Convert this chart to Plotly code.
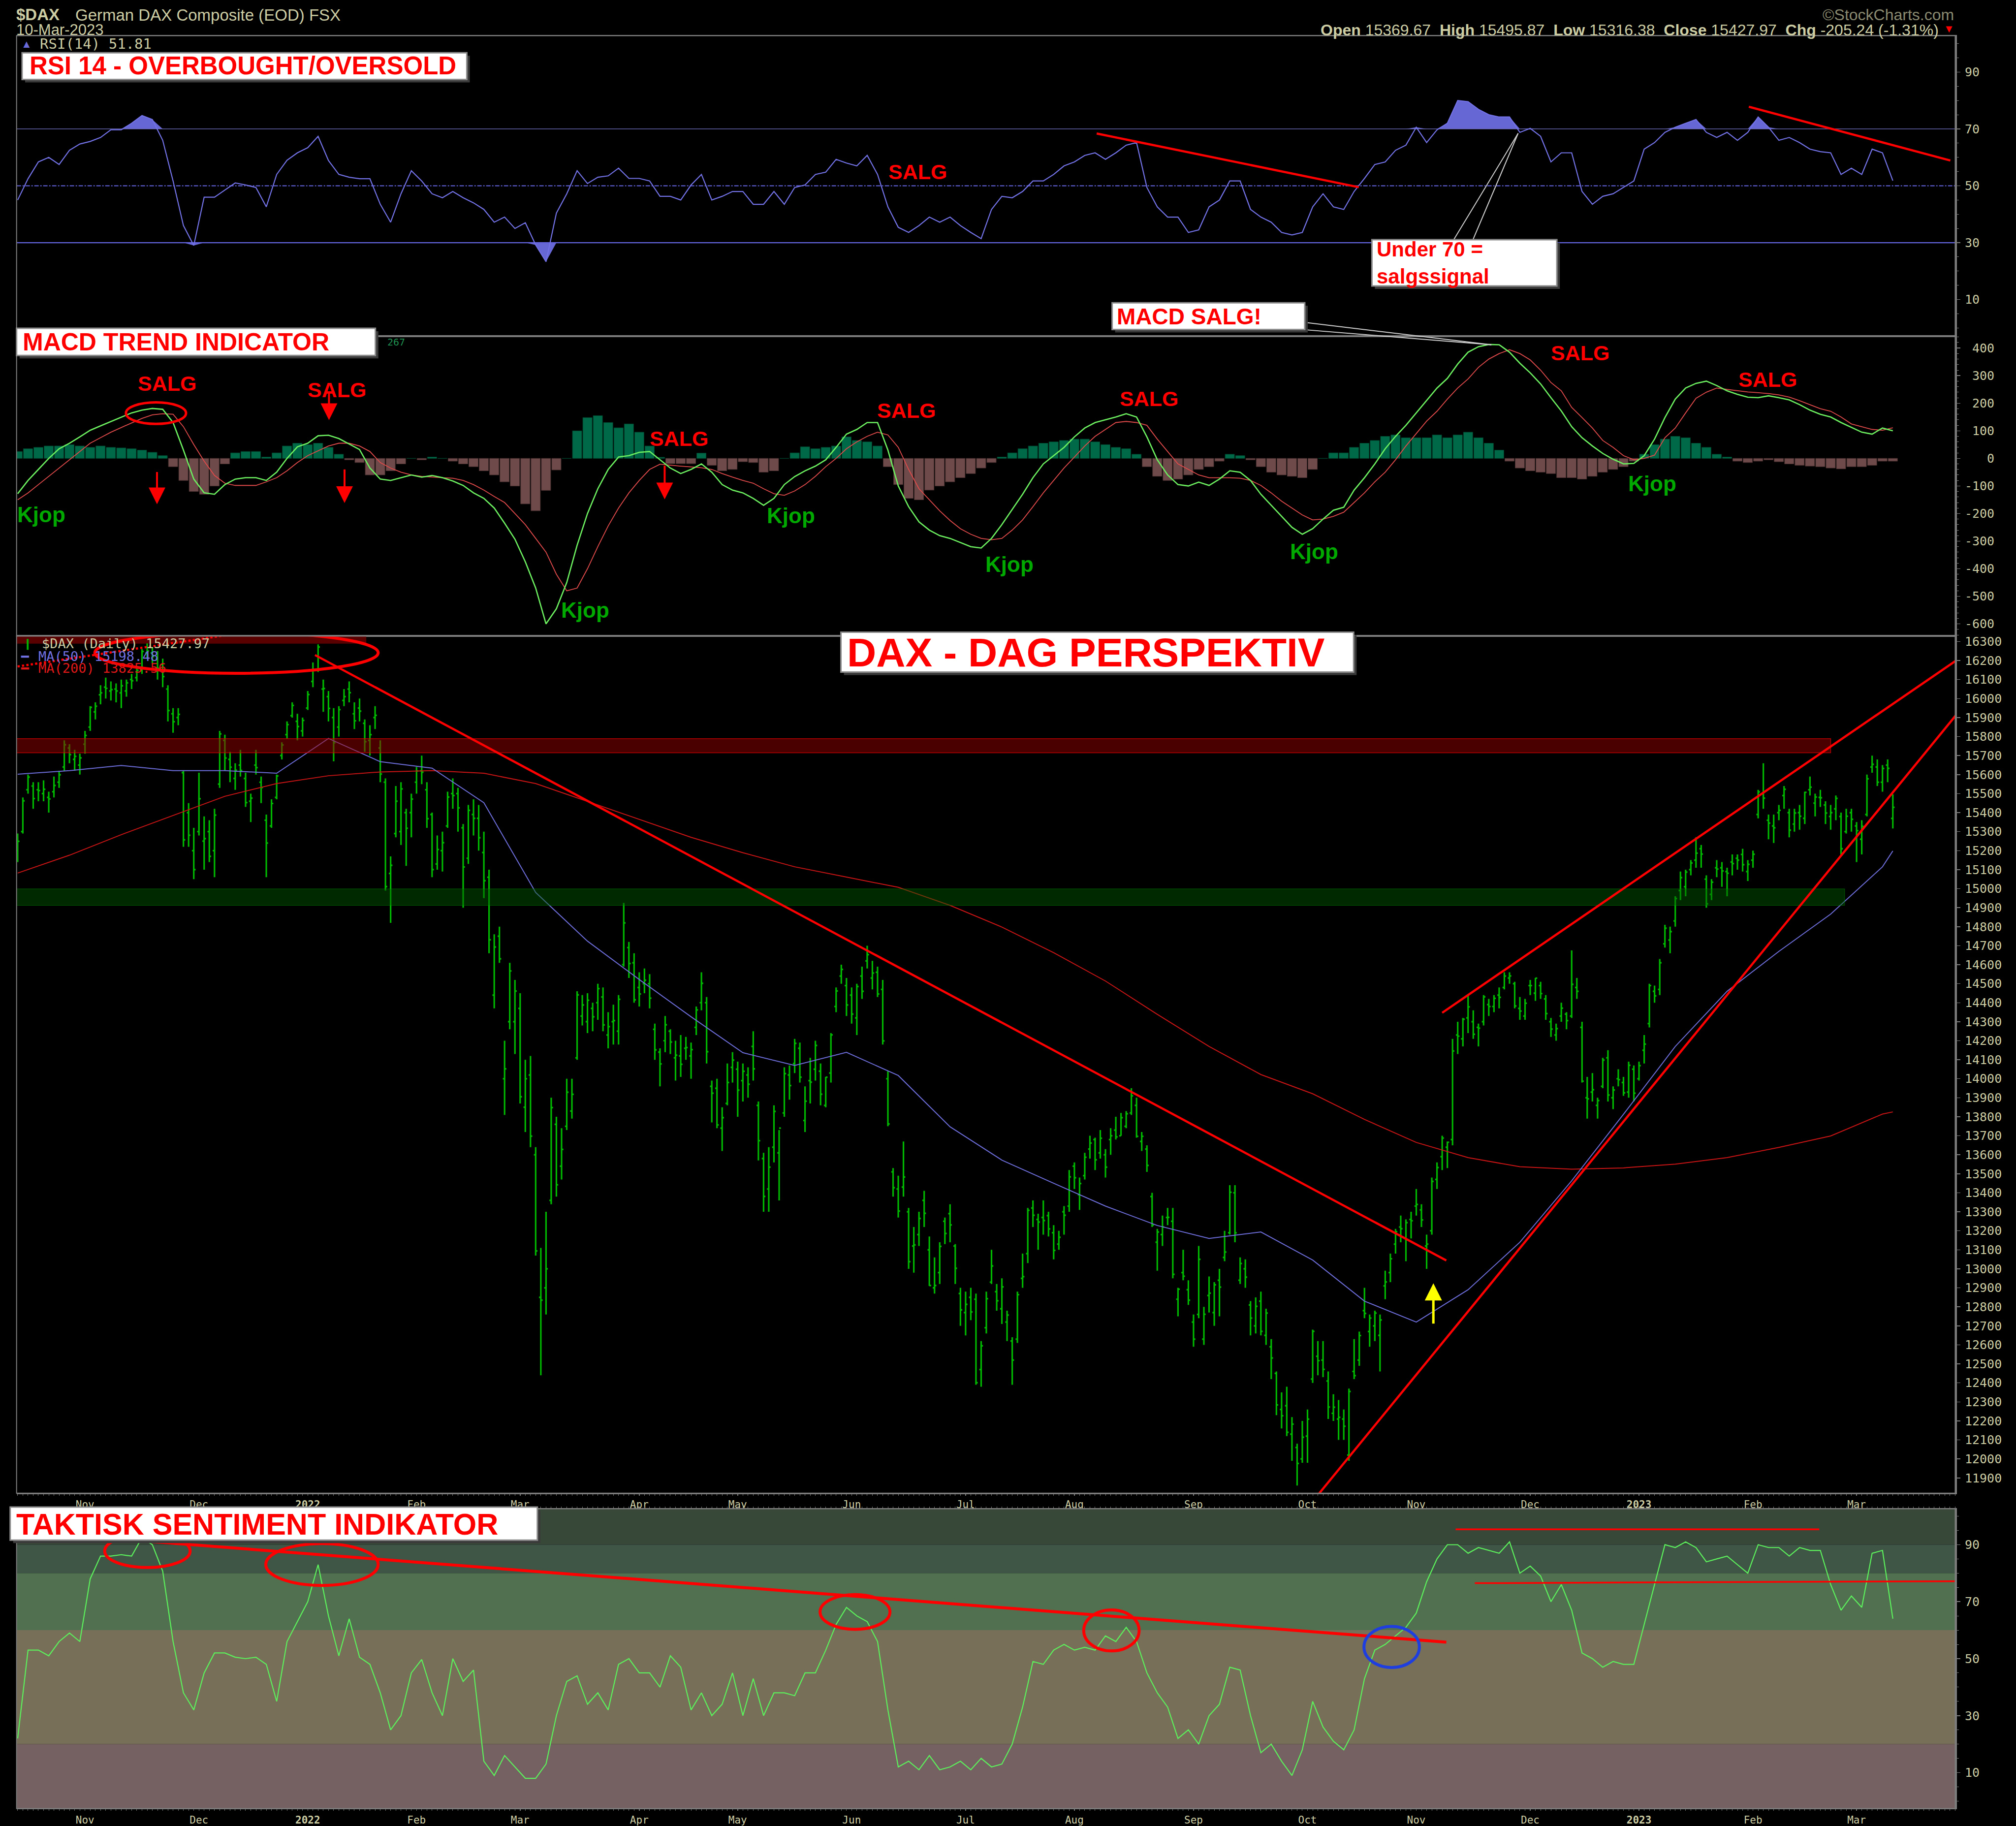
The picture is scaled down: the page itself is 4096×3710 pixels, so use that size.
import numpy as np
import pandas as pd
import plotly.graph_objects as go

# ------------------------------------------------------------------ calendar
START, END = "2021-10-13", "2023-03-10"
HOLIDAYS = ["2021-12-24", "2021-12-31", "2022-04-15", "2022-04-18", "2022-12-26"]

# ------------------------------------------------------------------ daily OHLC (open, high, low, close)
oct21 = [(15200,15290,15140,15249),(15300,15480,15290,15462),(15520,15600,15500,15587),(15540,15560,15420,15474),
         (15520,15560,15460,15516),(15500,15570,15460,15523),(15480,15510,15400,15472),(15510,15590,15480,15543),
         (15560,15620,15530,15599),(15640,15780,15620,15757),(15740,15760,15660,15705),(15680,15730,15620,15696),
         (15650,15710,15600,15688)]
nov21 = [(15760,15830,15710,15806),(15850,15960,15830,15954),(15930,15980,15890,15960),(16020,16070,15970,16030),
         (16060,16110,16000,16054),(16040,16090,15990,16047),(16050,16080,15980,16040),(16030,16100,15950,16067),
         (16040,16100,16010,16083),(16100,16130,16050,16094),(16110,16170,16090,16148),(16150,16260,16130,16248),
         (16240,16290,16210,16251),(16240,16270,16180,16221),(16210,16250,16100,16160),(16180,16210,16060,16116),
         (16050,16070,15880,15937),(15920,15950,15820,15878),(15900,15950,15860,15917),(15610,15620,15220,15257),
         (15400,15450,15220,15281),(15200,15320,15050,15100)]
dec21 = [(15300,15610,15280,15473),(15250,15380,15100,15263),(15300,15360,15140,15170),(15200,15420,15060,15387),
         (15550,15830,15530,15814),(15780,15810,15620,15687),(15680,15720,15560,15639),(15580,15660,15520,15623),
         (15650,15730,15590,15622),(15580,15610,15430,15453),(15460,15500,15350,15476),(15650,15730,15600,15637),
         (15560,15590,15450,15532),(15360,15390,15060,15240),(15330,15470,15320,15448),(15480,15600,15470,15593),
         (15700,15770,15680,15756),(15810,15880,15790,15863),(15910,15980,15900,15964),(15880,15920,15780,15853),
         (15830,15900,15800,15885)]
jan22 = [(15950,16040,15940,16021),(16090,16190,16060,16152),(16150,16285,16140,16271),(16050,16100,15930,16053),
         (16010,16040,15880,15948),(15900,15950,15670,15768),(15850,15960,15800,15942),(15990,16050,15960,16010),
         (16050,16090,15980,16031),(15920,15980,15840,15883),(15950,16000,15880,15934),(15870,15890,15720,15773),
         (15780,15860,15700,15810),(15900,15960,15840,15912),(15740,15780,15560,15603),(15560,15580,14990,15011),
         (15080,15170,14820,15123),(15290,15540,15270,15460),(15300,15560,15230,15525),(15400,15420,15120,15318),
         (15400,15500,15270,15471)]
feb22 = [(15560,15640,15500,15619),(15620,15700,15550,15613),(15520,15560,15320,15368),(15390,15400,15060,15100),
         (15130,15280,15100,15206),(15200,15300,15090,15242),(15330,15510,15320,15482),(15500,15580,15420,15490),
         (15500,15530,15300,15425),(15320,15340,14900,15114),(15160,15440,15130,15412),(15390,15470,15280,15370),
         (15370,15440,15200,15268),(15190,15300,14950,15042),(15060,15100,14660,14731),(14440,14760,14370,14693),
         (14750,14800,14610,14631),(14000,14200,13810,14052),(14300,14610,14260,14567),(14300,14520,14130,14461)]
mar22 = [(14370,14450,13870,13905),(13850,14100,13720,14000),(14020,14120,13640,13698),(13600,13640,13070,13094),
         (12850,13110,12440,12835),(12900,13300,12760,13000),(13360,13900,13340,13848),(13760,13800,13380,13442),
         (13540,13740,13470,13628),(13750,14000,13730,13929),(13830,14000,13790,13918),(14110,14460,14100,14441),
         (14330,14440,14280,14388),(14300,14450,14240,14413),(14370,14400,14250,14326),(14400,14500,14310,14474),
         (14430,14480,14250,14283),(14230,14350,14160,14274),(14300,14390,14180,14306),(14250,14440,14180,14418),
         (14600,14925,14590,14820),(14690,14720,14530,14606),(14610,14660,14400,14415)]
apr22 = [(14480,14560,14380,14446),(14500,14580,14450,14518),(14500,14550,14370,14424),(14260,14290,14100,14152),
         (14140,14160,13960,14078),(14200,14330,14140,14284),(14250,14260,14130,14193),(14110,14200,13990,14124),
         (14120,14230,14010,14076),(14160,14220,14100,14164),(14120,14190,14000,14153),(14270,14380,14230,14362),
         (14400,14560,14360,14502),(14400,14430,14080,14142),(13960,13990,13770,13924),(13950,14000,13740,13757),
         (13740,13850,13620,13795),(13870,14080,13860,13980),(14060,14140,13980,14098)]
may22 = [(14050,14090,13800,13940),(13990,14080,13880,14039),(14020,14060,13900,13971),(14170,14250,13990,14052),
         (13860,13880,13570,13674),(13580,13610,13300,13381),(13420,13640,13300,13535),(13640,13860,13560,13828),
         (13610,13730,13360,13740),(13820,14060,13800,14027),(14020,14070,13890,13964),(14080,14210,14030,14186),
         (14160,14190,13980,14008),(13780,13960,13720,13882),(13990,14110,13870,13982),(14050,14200,13990,14175),
         (14040,14080,13860,13919),(13860,14010,13850,14008),(14030,14240,13980,14231),(14380,14480,14350,14462),
         (14540,14600,14500,14575),(14490,14530,14330,14388)]
jun22 = [(14440,14480,14290,14340),(14320,14500,14230,14485),(14540,14590,14420,14460),(14620,14700,14580,14653),
         (14530,14620,14470,14556),(14560,14590,14430,14446),(14470,14520,14180,14199),(14000,14040,13750,13762),
         (13510,13530,13380,13427),(13420,13490,13270,13304),(13430,13670,13380,13483),(13300,13320,13000,13038),
         (13120,13220,12980,13126),(13180,13300,13120,13265),(13360,13410,13220,13292),(13100,13170,12910,12912),
         (12900,13060,12870,12912),(12980,13140,12920,13118),(13250,13270,13130,13186),(13290,13340,13140,13231),
         (13120,13130,12920,13003),(12870,12900,12700,12784)]
jul22 = [(12770,12880,12650,12813),(12850,12900,12730,12773),(12840,12870,12390,12401),(12470,12620,12380,12595),
         (12690,12880,12660,12843),(12930,13100,12920,13015),(12880,12920,12780,12832),(12790,12950,12710,12905),
         (12720,12780,12620,12757),(12620,12640,12390,12520),(12630,12880,12610,12864),(12950,13080,12900,12959),
         (13080,13320,13030,13308),(13320,13360,13220,13282),(13260,13290,13100,13246),(13270,13360,13180,13254),
         (13280,13300,13170,13210),(13190,13230,13050,13097),(13130,13200,13100,13166),(13300,13330,13180,13282),
         (13330,13520,13300,13484)]
aug22 = [(13540,13560,13420,13479),(13390,13480,13310,13449),(13490,13610,13470,13587),(13630,13700,13580,13662),
         (13680,13690,13520,13574),(13610,13730,13580,13687),(13600,13630,13480,13535),(13680,13740,13600,13700),
         (13730,13800,13680,13694),(13700,13820,13700,13795),(13750,13830,13740,13816),(13820,13950,13810,13910),
         (13860,13900,13690,13697),(13670,13720,13620,13697),(13630,13650,13510,13544),(13380,13400,13220,13230),
         (13140,13210,12990,13194),(13180,13280,13120,13220),(13270,13320,13230,13271),(13250,13320,12950,12971),
         (12840,12900,12750,12893),(12980,13100,12940,12961),(12890,12940,12810,12835)]
sep22 = [(12720,12760,12590,12630),(12760,13120,12740,13050),(12630,12800,12600,12761),(12860,12960,12770,12872),
         (12770,12930,12700,12916),(12940,13000,12750,12904),(13060,13200,13040,13088),(13190,13440,13180,13403),
         (13400,13440,13140,13189),(12940,13060,12920,13028),(13000,13050,12900,12956),(12810,12830,12650,12741),
         (12700,12850,12660,12803),(12830,12880,12650,12671),(12650,12790,12600,12767),(12590,12630,12420,12531),
         (12450,12460,12230,12284),(12260,12350,12160,12227),(12280,12380,12120,12140),(12130,12220,11990,12183),
         (12060,12080,11860,11976),(12000,12200,11980,12114)]
oct22 = [(12120,12260,11980,12209),(12420,12680,12400,12671),(12540,12620,12440,12517),(12520,12620,12430,12471),
         (12410,12460,12210,12273),(12240,12340,12200,12272),(12210,12310,12100,12219),(12210,12260,12100,12172),
         (12020,12370,11990,12355),(12460,12630,12420,12438),(12520,12670,12490,12649),(12780,12900,12740,12765),
         (12670,12760,12590,12741),(12700,12780,12620,12767),(12650,12760,12460,12731),(12910,12990,12840,12931),
         (12980,13080,12930,13053),(13130,13210,13080,13195),(13220,13280,13140,13211),(13160,13260,13040,13243),
         (13260,13300,13160,13253)]
nov22 = [(13330,13420,13280,13339),(13310,13340,13220,13257),(13120,13180,13000,13130),(13200,13480,13180,13460),
         (13470,13560,13420,13533),(13590,13700,13520,13688),(13640,13670,13530,13666),(13680,14210,13650,14146),
         (14230,14300,14130,14224),(14210,14320,14170,14313),(14320,14440,14240,14378),(14300,14360,14210,14234),
         (14270,14290,14170,14266),(14300,14440,14280,14431),(14390,14420,14330,14380),(14380,14440,14350,14423),
         (14440,14480,14370,14428),(14480,14560,14470,14540),(14530,14560,14500,14541),(14500,14510,14370,14383),
         (14370,14430,14310,14356),(14330,14420,14310,14397)]
dec22 = [(14490,14520,14440,14490),(14450,14530,14410,14529),(14490,14510,14420,14448),(14420,14440,14310,14343),
         (14300,14320,14220,14261),(14230,14290,14200,14264),(14330,14400,14300,14371),(14340,14350,14260,14306),
         (14330,14675,14320,14497),(14480,14530,14420,14460),(14270,14300,13980,13987),(13900,14010,13790,13894),
         (13930,14030,13880,13942),(13860,13900,13790,13885),(13960,14110,13950,14098),(14110,14150,13880,13914),
         (13900,13960,13840,13941),(14000,14050,13960,13995),(13980,14010,13910,13926),(13930,14090,13900,14071),
         (14050,14070,13880,13924)]
jan23 = [(14000,14090,13990,14069),(14150,14230,14080,14182),(14290,14500,14270,14490),(14460,14490,14400,14436),
         (14470,14630,14440,14610),(14710,14810,14690,14792),(14730,14800,14660,14774),(14830,14960,14800,14948),
         (14990,15090,14940,15058),(15010,15100,14960,15087),(15100,15150,15070,15135),(15150,15270,15110,15187),
         (15210,15230,15110,15182),(15050,15070,14900,14920),(14970,15050,14940,15034),(15110,15150,15060,15103),
         (15110,15140,15010,15093),(15090,15110,14960,15081),(15140,15180,15070,15132),(15160,15180,15100,15150),
         (15180,15210,15090,15126),(15090,15150,15040,15128)]
feb23 = [(15150,15200,15110,15181),(15390,15520,15370,15509),(15500,15660,15420,15476),(15360,15390,15260,15345),
         (15330,15390,15240,15320),(15400,15440,15360,15412),(15490,15540,15420,15523),(15400,15420,15270,15308),
         (15340,15420,15300,15398),(15400,15440,15310,15381),(15370,15510,15340,15507),(15520,15590,15490,15534),
         (15450,15500,15380,15482),(15480,15520,15430,15478),(15440,15460,15340,15398),(15380,15440,15310,15400),
         (15420,15490,15360,15475),(15380,15400,15180,15210),(15300,15420,15290,15381),(15400,15420,15300,15365)]
mar23 = [(15330,15350,15140,15305),(15260,15360,15180,15328),(15390,15600,15380,15578),(15640,15700,15610,15654),
         (15640,15680,15540,15560),(15560,15650,15510,15632),(15650,15680,15560,15633),(15369.67,15495.87,15316.38,15427.97)]

# ------------------------------------------------------------------ indicators, every 2nd trading day
rsi_vals = [45,52.5,58.4,60,57.5,62.5,64.7,65.6,67,69.7,
            69.7,72,74.7,73.3,66,51.7,36,29,46,46,
            48.5,51,50.3,49.4,42.6,54,59,61.6,63.4,67.4,
            58.9,54,53,52.5,52.5,43.5,37.2,47.2,55.3,51.7,
            47.2,45.8,48,45.8,44,41.7,37.2,39,35,37,
            29.2,23.3,40.4,47.2,55.3,50.8,53,53.5,56.2,52.6,
            52.6,51.7,46.3,46.3,45,50.3,54,45,46.3,48,
            48,43.5,43.5,48,43.5,49.4,50.3,54,54.8,59.3,
            58,57,60.7,54,42.6,35.4,33.6,36,39,37.2,
            39,36,33.6,31.4,41.7,46.3,45.8,48,51.7,51.7,
            54,57,58.4,60.7,61.6,59.3,61.6,64.3,65.2,49.4,
            42.6,39,39,33.6,34.5,42.6,45,51.7,51.7,41.7,
            39,37.2,33.6,32.7,33.6,42.6,47.2,42.6,41.7,48,
            52.6,57.5,58.4,62.5,64.3,70.6,65.2,69.7,72,80,
            79.6,76.9,75,74.2,74.2,68.8,70.2,67.4,58.4,61.6,
            61.6,48,43.5,46.3,47.2,49.4,51.7,62.9,65.2,68.8,
            70.6,72,73.3,68.8,67,68.8,66,68.8,74.2,70.6,
            66,67,65.2,62.9,62,61.6,54,56.2,54,62.9,
            61.6,51.81]
macd_vals = [-128,-80,-40,0,35,55,78,102,118,134,
             150,165,175,181,178,130,30,-75,-125,-130,
             -95,-75,-70,-70,-80,-50,0,42,55,82,
             84,72,52,32,-35,-75,-80,-70,-60,-68,
             -62,-70,-82,-98,-125,-145,-180,-235,-293,-375,
             -470,-600,-545,-450,-315,-200,-110,-40,5,10,
             22,25,-5,-35,-55,-40,-20,-50,-95,-115,
             -125,-145,-170,-145,-95,-66,-45,-28,-5,40,
             88,105,130,130,30,-100,-175,-230,-260,-280,
             -290,-305,-320,-325,-290,-240,-185,-130,-70,-20,
             10,40,78,110,130,140,150,162,150,78,
             -5,-60,-95,-100,-86,-98,-75,-45,-50,-80,
             -130,-170,-210,-250,-275,-255,-220,-188,-177,-115,
             -70,-20,35,80,120,165,210,255,290,342,
             385,405,413,412,385,345,310,270,220,172,
             115,75,45,18,-3,-20,-18,10,70,148,
             215,255,272,280,264,245,232,222,220,227,
             220,212,195,175,160,150,130,112,95,88,
             110,100]
signal_vals = [-150,-125,-95,-65,-35,-5,25,55,75,95,
               112,128,145,158,162,160,115,50,-10,-62,
               -90,-98,-98,-98,-85,-70,-45,-15,10,28,
               45,55,55,45,25,-15,-35,-50,-60,-65,
               -68,-70,-72,-80,-95,-115,-138,-160,-200,-240,
               -290,-340,-420,-480,-470,-400,-320,-245,-180,-125,
               -80,-40,-21,-25,-28,-31,-34,-40,-55,-68,
               -80,-90,-110,-128,-134,-118,-95,-65,-30,0,
               35,60,80,95,85,40,-40,-110,-150,-190,
               -225,-255,-275,-290,-295,-290,-260,-223,-175,-125,
               -80,-35,5,45,80,105,130,134,130,120,
               70,25,-20,-40,-60,-70,-70,-70,-72,-80,
               -98,-125,-155,-180,-205,-223,-220,-210,-195,-160,
               -125,-85,-50,-5,45,90,135,171,215,255,
               288,330,360,380,394,380,357,320,275,245,
               185,148,110,65,40,10,-5,0,12,75,
               110,165,218,240,255,250,245,241,238,235,
               230,222,209,195,180,171,150,125,115,105,
               102,111]
hist_vals = [25,35,40,45,45,50,45,40,45,40,
             38,35,30,22,10,-30,-80,-120,-130,-100,
             -20,20,25,25,5,20,45,55,50,55,
             40,15,-5,-15,-60,-60,-45,-20,0,-5,
             5,0,-10,-20,-30,-45,-60,-85,-100,-165,
             -190,-116,-42,0,100,148,155,130,111,125,
             95,45,4,-19,-19,-19,19,-25,-45,-40,
             -12,-15,-50,-45,0,20,42,35,40,45,
             78,65,60,45,-30,-95,-145,-150,-115,-100,
             -85,-70,-55,-35,-15,5,20,35,45,55,
             60,65,70,70,60,50,40,35,15,-30,
             -65,-80,-75,-60,-40,-30,-10,15,10,-5,
             -30,-50,-60,-65,-70,-40,0,20,20,40,
             55,65,80,85,75,75,75,85,75,85,
             95,75,55,30,-10,-35,-45,-50,-55,-70,
             -70,-75,-65,-50,-40,-30,-10,15,50,70,
             80,75,55,40,15,5,-10,-15,-10,-5,
             -12,-20,-25,-28,-30,-35,-38,-30,-30,-25,
             -10,-10]
sent_vals = [22,53,53,51,56,59,56,78,86,86,
             86.5,86,92.5,90,80.7,56,38,32,45,52,
             52,50.5,50,50.5,48,35,56,63,70,83,
             65,51,64,50.5,48,38,25,30,45,49.7,
             38,30,50,42,46,14,9,16,12,8,
             8,13,30,42,44,34,38,32,48,50,
             45,45,40,51,47,32,38,30,34,45,
             30,43,30,38,38,37,45,45,53,62,
             68,65,63,56,32,12,14,11,16,11,
             12,14,11,15,12,13,20,33,49,48,
             53,55,53,54,53,58,56,61,56,45,
             38,33,22,25,20,30,34,47,46,30,
             17,20,14,9,18,35,26,21,18,25,
             43,53,55,58,61,66,77,85,90,90,
             87,89,88,87,91,80,82.5,79,70,76,
             67,52,50,47,49,48,48,62,76,90,
             89,91,89,84,85,86,83,80,90,89,
             89,86,89,88,88,76,67,72,68,87,
             88,64]

# moving averages, every 10th trading day (+ last bar)
ma_days = list(range(0, 361, 10)) + [362]
ma50_vals = [15602,15621,15648,15621,15621,15607,15790,15668,15634,15452,14980,14724,14522,14326,
             14137,14070,14139,14017,13747,13572,13450,13330,13228,13160,13194,13046,12830,12720,
             12890,13140,13463,13813,14170,14460,14670,14866,15115,15198.48]
ma200_vals = [15082,15176,15284,15385,15486,15553,15594,15614,15621,15607,15553,15459,15364,15270,
              15189,15115,15061,15007,14912,14798,14663,14514,14339,14170,14022,13921,13786,13665,
              13585,13537,13524,13531,13551,13585,13639,13699,13814,13825.56]

# ------------------------------------------------------------------ build series
dates = pd.bdate_range(START, END)
dates = dates[~dates.isin(pd.to_datetime(HOLIDAYS))]
bars = oct21 + nov21 + dec21 + jan22 + feb22 + mar22 + apr22 + may22 + jun22 + jul22 + aug22 + sep22 + \
       oct22 + nov22 + dec22 + jan23 + feb23 + mar23
n = min(len(bars), len(dates))
bars = bars[:n]
dates = dates[:n]
day = np.arange(n)
opens = [b[0] for b in bars]
highs = [b[1] for b in bars]
lows = [b[2] for b in bars]
closes = [b[3] for b in bars]

grid = np.arange(0, n, 2)[:len(rsi_vals)]
rsi = np.array(rsi_vals[:len(grid)], float)
macd = np.array(macd_vals[:len(grid)], float)
sig = np.array(signal_vals[:len(grid)], float)
hist = np.array(hist_vals[:len(grid)], float)
sent = np.array(sent_vals[:len(grid)], float)

# month ticks
tick_pos, tick_txt = [], []
for i in range(1, n):
    if dates[i].month != dates[i - 1].month:
        tick_pos.append(i)
        tick_txt.append("<b>%d</b>" % dates[i].year if dates[i].month == 1 else dates[i].strftime("%b"))

# ------------------------------------------------------------------ geometry helpers (reference pixels -> paper)
FX, FY = 4742.0, 4295.0
def px(x): return x / FX
def py(y): return 1.0 - y / FY

KH = "#cdcda4"
GREY = "#7c7c7c"
MONO = "DejaVu Sans Mono"
SANS = "Liberation Sans"
XR = [-0.21, 374.04]
XD = [px(39), px(4599)]

fig = go.Figure()

# ---------------- RSI panel
fig.add_trace(go.Scatter(x=grid, y=np.full(len(grid), 70.0), mode="lines", line=dict(width=0),
                         xaxis="x", yaxis="y", hoverinfo="skip"))
fig.add_trace(go.Scatter(x=grid, y=np.maximum(rsi, 70), mode="lines", line=dict(width=0), fill="tonexty",
                         fillcolor="#6666d4", xaxis="x", yaxis="y", hoverinfo="skip"))
fig.add_trace(go.Scatter(x=grid, y=np.full(len(grid), 30.0), mode="lines", line=dict(width=0),
                         xaxis="x", yaxis="y", hoverinfo="skip"))
fig.add_trace(go.Scatter(x=grid, y=np.minimum(rsi, 30), mode="lines", line=dict(width=0), fill="tonexty",
                         fillcolor="#6666d4", xaxis="x", yaxis="y", hoverinfo="skip"))
for lvl, w, dsh, col in [(70, 1.2, "solid", "#7474c8"), (50, 2, "dashdot", "#6464e0"), (30, 2.2, "solid", "#6464e0")]:
    fig.add_trace(go.Scatter(x=XR, y=[lvl, lvl], mode="lines", line=dict(color=col, width=w, dash=dsh),
                             xaxis="x", yaxis="y", hoverinfo="skip"))
fig.add_trace(go.Scatter(x=grid, y=rsi, mode="lines", line=dict(color="#7272e6", width=2.2),
                         xaxis="x", yaxis="y", hoverinfo="skip"))

# ---------------- MACD panel
fig.add_trace(go.Bar(x=grid, y=hist, width=1.8,
                     marker=dict(color=np.where(hist >= 0, "#006a48", "#6e4a4a"),
                                 line=dict(color=np.where(hist >= 0, "#00442e", "#4a3030"), width=1)),
                     xaxis="x2", yaxis="y2", hoverinfo="skip"))
fig.add_trace(go.Scatter(x=grid, y=sig, mode="lines", line=dict(color="#e04a4a", width=1.8),
                         xaxis="x2", yaxis="y2", hoverinfo="skip"))
fig.add_trace(go.Scatter(x=grid, y=macd, mode="lines", line=dict(color="#6cf060", width=2.6),
                         xaxis="x2", yaxis="y2", hoverinfo="skip"))

# ---------------- price panel
fig.add_trace(go.Ohlc(x=day, open=opens, high=highs, low=lows, close=closes, tickwidth=0.35,
                      increasing=dict(line=dict(color="#00b800", width=3.2)),
                      decreasing=dict(line=dict(color="#00b800", width=3.2)),
                      xaxis="x3", yaxis="y3", hoverinfo="skip"))
fig.add_trace(go.Scatter(x=ma_days, y=ma200_vals, mode="lines", line=dict(color="#c81414", width=2),
                         xaxis="x3", yaxis="y3", hoverinfo="skip"))
fig.add_trace(go.Scatter(x=ma_days, y=ma50_vals, mode="lines", line=dict(color="#6c6cd8", width=2),
                         xaxis="x3", yaxis="y3", hoverinfo="skip"))

# ---------------- sentiment panel
fig.add_trace(go.Scatter(x=grid, y=sent, mode="lines", line=dict(color="#5cf05c", width=2.2),
                         xaxis="x4", yaxis="y4", hoverinfo="skip"))

# ------------------------------------------------------------------ axes
def xax(dom_anchor, labels):
    d = dict(domain=XD, range=XR, anchor=dom_anchor, showgrid=False, zeroline=False,
             showline=True, linecolor=GREY, linewidth=2, mirror=True, fixedrange=True)
    if labels:
        d.update(tickmode="array", tickvals=tick_pos, ticktext=tick_txt, ticks="outside", ticklen=3,
                 tickcolor=GREY, tickwidth=1.5, tickfont=dict(family=MONO, size=21, color=KH),
                 ticklabelstandoff=0,
                 minor=dict(tickmode="linear", tick0=0, dtick=1, ticks="outside", ticklen=3,
                            tickcolor=GREY, tickwidth=1))
    else:
        d.update(showticklabels=False, ticks="")
    return d

def yax(dom, rng, anchor, vals, txt, minor_dt):
    d = dict(domain=dom, range=rng, anchor=anchor, side="right", showgrid=False, zeroline=False,
             showline=True, linecolor=GREY, linewidth=3.5, fixedrange=True,
             tickmode="array", tickvals=vals, ticktext=txt, ticks="outside", ticklen=7, tickcolor=GREY,
             tickwidth=1.5, tickfont=dict(family=MONO, size=25, color=KH), ticklabelstandoff=4)
    if minor_dt:
        d["minor"] = dict(tickmode="linear", tick0=0, dtick=minor_dt, ticks="outside", ticklen=4,
                          tickcolor=GREY, tickwidth=1)
    return d

rsi_ticks = [10, 30, 50, 70, 90]
macd_ticks = list(range(-600, 401, 100))
price_ticks = list(range(11900, 16301, 100))
NB = "\u00a0"

x1 = xax("y", False)
x2 = xax("y2", False)
x3 = xax("y3", True)
x4 = xax("y4", True)
x4["mirror"] = "allticks"
x3["rangeslider"] = dict(visible=False)

fig.update_layout(
    width=4096, height=3710, margin=dict(l=0, r=0, t=0, b=0),
    paper_bgcolor="black", plot_bgcolor="black", showlegend=False, bargap=0,
    xaxis=x1, xaxis2=x2, xaxis3=x3, xaxis4=x4,
    yaxis=yax([py(789), py(80.7)], [-2.8, 102.8], "x", rsi_ticks, [str(v) for v in rsi_ticks], 5),
    yaxis2=yax([py(1497), py(789)], [-644, 444], "x2", macd_ticks,
               [str(v).rjust(4, NB) for v in macd_ticks], 20),
    yaxis3=yax([py(3519), py(1497)], [11820, 16329], "x3", price_ticks, [str(v) for v in price_ticks], None),
    yaxis4=yax([py(4263), py(3556)], [-2.6, 102.6], "x4", rsi_ticks, [str(v) for v in rsi_ticks], 5),
)

# ------------------------------------------------------------------ shapes
shapes = []
RED = "#ff0000"

def dline(xr, yr, x0, y0, x1_, y1_, color=RED, width=4.5, dash="solid"):
    shapes.append(dict(type="line", xref=xr, yref=yr, x0=x0, y0=y0, x1=x1_, y1=y1_,
                       line=dict(color=color, width=width, dash=dash), layer="above"))

def dellipse(xr, yr, x0, x1_, y0, y1_, color=RED, width=6):
    shapes.append(dict(type="circle", xref=xr, yref=yr, x0=x0, x1=x1_, y0=y0, y1=y1_,
                       line=dict(color=color, width=width), layer="above"))

def prect(x0, y0, x1_, y1_, fill, line="#8c8c8c", lw=3):
    shapes.append(dict(type="rect", xref="paper", yref="paper", x0=px(x0), x1=px(x1_), y0=py(y1_), y1=py(y0),
                       fillcolor=fill, line=dict(color=line, width=lw), layer="above"))

def pline(x0, y0, x1_, y1_, color="#d0d0d0", width=2):
    shapes.append(dict(type="line", xref="paper", yref="paper", x0=px(x0), y0=py(y0), x1=px(x1_), y1=py(y1_),
                       line=dict(color=color, width=width), layer="above"))

# sentiment background bands
for lo, hi, col in [(90, 110, "#384838"), (80, 90, "#3f5545"), (60, 80, "#517050"),
                    (20, 60, "#776f58"), (-10, 20, "#756161")]:
    shapes.append(dict(type="rect", xref="x4", yref="y4", x0=-5, x1=400, y0=lo, y1=hi,
                       fillcolor=col, line=dict(width=0), layer="below"))

# price panel bands
shapes.append(dict(type="rect", xref="x3", yref="y3", x0=-5, x1=67.3, y0=16289, y1=16400,
                   fillcolor="rgba(105,0,0,0.85)", line=dict(width=0), layer="below"))
shapes.append(dict(type="rect", xref="x3", yref="y3", x0=-5, x1=350, y0=15715, y1=15789,
                   fillcolor="rgba(150,0,0,0.50)", line=dict(color="rgba(225,0,0,0.75)", width=1.5), layer="above"))
shapes.append(dict(type="rect", xref="x3", yref="y3", x0=-5, x1=352.7, y0=14912, y1=14999,
                   fillcolor="rgba(0,90,0,0.45)", line=dict(color="rgba(0,150,0,0.55)", width=1), layer="above"))

# price trend lines & ellipse
dline("x3", "y3", 57.4, 16229, 275.8, 13044)
dline("x3", "y3", 275, 14347, 375.5, 16224)
dline("x3", "y3", 251, 11810, 380.3, 16116)
dline("x3", "y3", -3.4, 16155, 55.4, 16396, width=4.5, dash="dot")
dellipse("x3", "y3", 14.9, 69.6, 16133, 16349, width=6)

# RSI trend lines
dline("x", "y", 208.3, 68.4, 258.9, 49.5)
dline("x", "y", 334.2, 77.8, 373.1, 58.9)

# MACD ellipse
dellipse("x2", "y2", 20.9, 32.5, 125, 203, width=5)

# sentiment lines & ellipses
dline("x4", "y4", 22.25, 91.6, 275.8, 55.8, width=6)
dline("x4", "y4", 277.6, 95.4, 347.8, 95.4, width=3.5)
dline("x4", "y4", 281.3, 76.5, 376.1, 77.2, width=3.5)
dellipse("x4", "y4", 16.8, 33.3, 82, 93.6)
dellipse("x4", "y4", 47.9, 69.6, 75.7, 90.4)
dellipse("x4", "y4", 154.9, 168.4, 60.3, 72.5)
dellipse("x4", "y4", 205.8, 216.5, 52.7, 67.1)
dellipse("x4", "y4", 259.9, 270.6, 46.9, 61.3, color="#1e3ee0")

# panel frames (thin grey)
for (t, b) in [(80.7, 789), (789, 1497), (1497, 3519), (3556, 4263)]:
    shapes.append(dict(type="rect", xref="paper", yref="paper", x0=px(39), x1=px(4599), y0=py(b), y1=py(t),
                       line=dict(color=GREY, width=2), fillcolor="rgba(0,0,0,0)", layer="above"))

# leader lines
pline(3417, 566, 3571, 311)
pline(3463, 566, 3571, 311)
pline(3040, 772, 3508, 810)
pline(3069, 757, 3508, 810)

# label boxes (shadow + white box)
for (x0, y0, x1_, y1_) in [(52, 121, 1098, 184), (39, 771, 883, 835), (2616, 711, 3069, 774),
                           (3227, 562, 3662, 671), (1978, 1488, 3184, 1582), (24, 3552, 1264, 3630)]:
    prect(x0 + 7, y0 + 7, x1_ + 7, y1_ + 7, "#3a3a3a", line="#3a3a3a", lw=0)
    prect(x0, y0, x1_, y1_, "white")

fig.update_layout(shapes=shapes)

# ------------------------------------------------------------------ annotations
ann = []

def ptext(x, y, text, size, color, family=SANS, xanchor="left", yanchor="middle"):
    ann.append(dict(xref="paper", yref="paper", x=px(x), y=py(y), text=text, showarrow=False,
                    xanchor=xanchor, yanchor=yanchor, align="left",
                    font=dict(family=family, size=size, color=color)))

# header
ptext(36, 31, "<b>$DAX</b>", 33, KH)
ptext(175, 32, "German DAX Composite (EOD) FSX", 33, KH)
ptext(36, 67, "10-Mar-2023", 31, KH)
ptext(4598, 31, "\u00a9StockCharts.com", 32, "#8a8a70", xanchor="right")
ptext(4563, 67, "<b>Open</b> 15369.67  <b>High</b> 15495.87  <b>Low</b> 15316.38  "
                "<b>Close</b> 15427.97  <b>Chg</b> -205.24 (-1.31%)", 32, KH, xanchor="right")
ptext(4584, 64, "\u25bc", 22, RED, xanchor="center")

# panel legends
ptext(48, 100, "\u25b2", 22, "#6a6ad8")
ptext(92, 100, "RSI(14) 51.81", 29, KH, family=MONO)
ptext(955, 804, "267", 20, "#1f8f4f", family=MONO, xanchor="right")
ptext(52, 1515, "\u2759", 22, "#00b400")
ptext(96, 1515, "$DAX (Daily) 15427.97", 27, KH, family=MONO)
ptext(46, 1545, "\u2501", 26, "#7070e0", family=MONO)
ptext(88, 1545, "MA(50) 15198.48", 27, "#7070e0", family=MONO)
ptext(46, 1573, "\u2501", 26, "#e01818", family=MONO)
ptext(88, 1573, "MA(200) 13825.56", 27, "#e01818", family=MONO)

# box texts
ptext(67, 152, "<b>RSI 14 - OVERBOUGHT/OVERSOLD</b>", 51, RED)
ptext(51, 803, "<b>MACD TREND INDICATOR</b>", 50, RED)
ptext(2625, 743, "<b>MACD SALG!</b>", 46, RED)
ptext(3236, 617, "<b>Under 70 =</b><br><b>salgssignal</b>", 42, RED)
ptext(1990, 1536, "<b>DAX - DAG PERSPEKTIV</b>", 82, RED)
ptext(36, 3592, "<b>TAKTISK SENTIMENT INDIKATOR</b>", 61, RED)

# SALG / Kjop markers
for (x, y) in [(2159, 402), (393, 901), (792, 916), (1597, 1031), (2132, 965), (2703, 937), (3717, 829), (4158, 892)]:
    ptext(x, y, "<b>SALG</b>", 43, RED, xanchor="center")
for (x, y) in [(97, 1210), (1376, 1436), (1860, 1213), (2374, 1328), (3091, 1297), (3886, 1137)]:
    ptext(x, y, "<b>Kjop</b>", 44, "#00a800", xanchor="center")

# arrows (head at data point, tail in data units)
for (xi, head, tail) in [(60.1, 138.7, 241.6), (26.9, -166.3, -46.5), (63.1, -161.7, -37.3), (124.9, -148.6, -24.0)]:
    ann.append(dict(xref="x2", yref="y2", axref="x2", ayref="y2", x=xi, y=head, ax=xi, ay=tail, text="",
                    showarrow=True, arrowhead=2, arrowsize=1.7, arrowwidth=4, arrowcolor=RED))
ann.append(dict(xref="x3", yref="y3", axref="x3", ayref="y3", x=273.3, y=12924, ax=273.3, ay=12708, text="",
                showarrow=True, arrowhead=2, arrowsize=1.4, arrowwidth=5, arrowcolor="#ffff00"))

fig.update_layout(annotations=ann)

fig.write_html("out.html", config={"displayModeBar": False, "staticPlot": True},
               post_script="document.body.style.margin='0px';document.body.style.overflow='hidden';")
